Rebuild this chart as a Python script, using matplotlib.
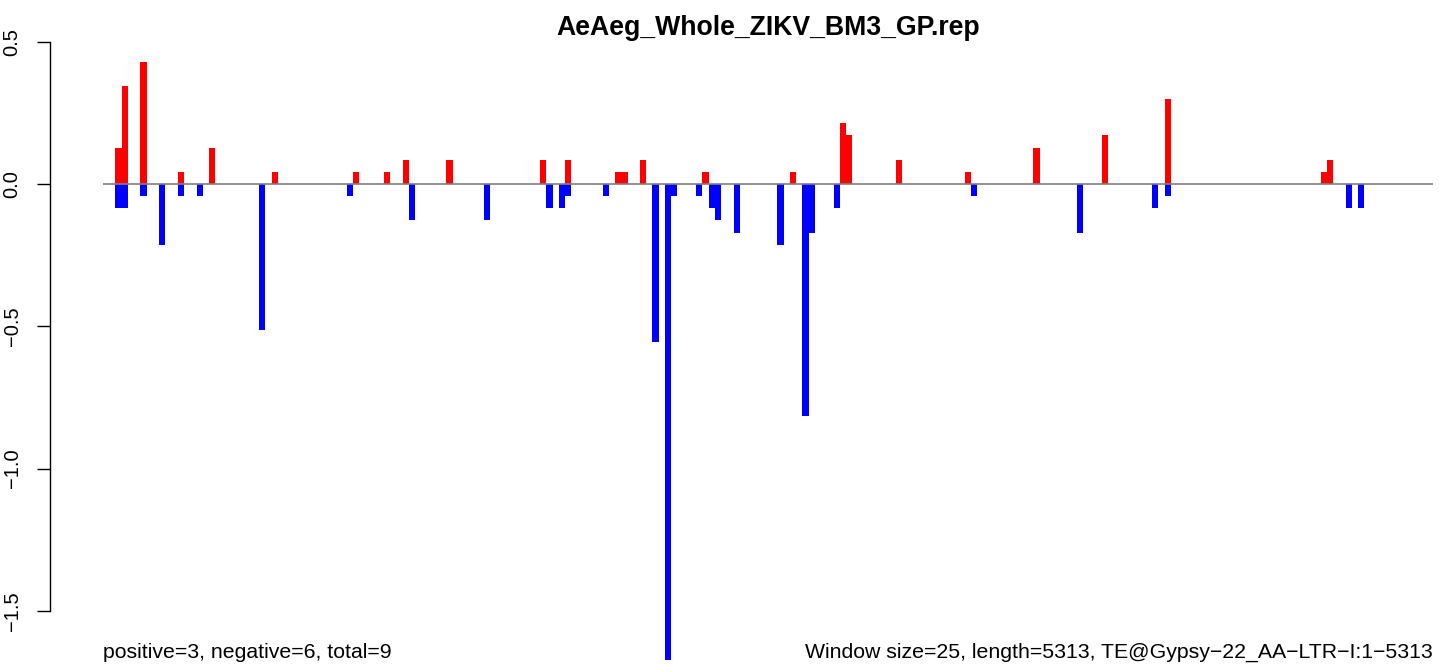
import matplotlib
matplotlib.use("Agg")
import matplotlib.pyplot as plt

plt.rcParams['font.family'] = ['Liberation Sans', 'DejaVu Sans']

title = "AeAeg_Whole_ZIKV_BM3_GP.rep"
n_windows = 213
left_note = "positive=3, negative=6, total=9"
right_note = "Window size=25, length=5313, TE@Gypsy\u221222_AA\u2212LTR\u2212I:1\u22125313"

pos_idx = [2, 3, 6, 12, 17, 27, 40, 45, 48, 55, 70, 74, 82, 83, 86, 96, 110,
           118, 119, 127, 138, 149, 160, 170, 195, 196]
pos_val = [0.128, 0.343, 0.428, 0.043, 0.128, 0.043, 0.043, 0.043, 0.086, 0.086,
           0.086, 0.086, 0.043, 0.043, 0.086, 0.043, 0.043, 0.214, 0.171, 0.086,
           0.043, 0.128, 0.171, 0.300, 0.043, 0.086]

neg_idx = [2, 3, 6, 9, 12, 15, 25, 39, 49, 61, 71, 73, 74, 80, 88, 90, 91, 95,
           97, 98, 101, 108, 112, 113, 117, 139, 156, 168, 170, 199, 201]
neg_val = [-0.086, -0.086, -0.043, -0.214, -0.043, -0.043, -0.514, -0.043, -0.128,
           -0.128, -0.086, -0.086, -0.043, -0.043, -0.557, -1.672, -0.043, -0.043,
           -0.086, -0.128, -0.171, -0.214, -0.814, -0.171, -0.086, -0.043, -0.171,
           -0.086, -0.043, -0.086, -0.086]

yticks = [0.5, 0.0, -0.5, -1.0, -1.5]
ytick_labels = ["0.5", "0.0", "\u22120.5", "\u22121.0", "\u22121.5"]

W, H = 1439, 664
fig = plt.figure(figsize=(W / 100, H / 100), dpi=100)
ax = fig.add_axes([50 / W, 0, (1433 - 50) / W, (664 - 38) / H])

px_per_unit = (1433 - 103) / n_windows
ax.set_xlim(-(103 - 50) / px_per_unit, n_windows)
ax.set_ylim(-(664 - 184) / 284.5, (184 - 38) / 284.5)

ax.bar(pos_idx, pos_val, width=1.0, align='edge', color='#FF0000', linewidth=0)
ax.bar(neg_idx, neg_val, width=1.0, align='edge', color='#0000FF', linewidth=0)
ax.hlines(0, 0, n_windows, color='#808080', linewidth=1.2, zorder=3)

for s in ['top', 'right', 'bottom']:
    ax.spines[s].set_visible(False)
ax.spines['left'].set_bounds(-1.5, 0.5)
ax.spines['left'].set_linewidth(1.0)
ax.set_xticks([])
ax.set_yticks(yticks)
ax.set_yticklabels(ytick_labels, rotation=90, va='center', fontsize=14.5)
ax.tick_params(axis='y', length=9.5, width=1.0, pad=11)

fig.text(768 / W, 1 - 28 / H, title, ha='center', va='center',
         fontsize=19.2, fontweight='bold')
fig.text(103 / W, 1 - 652 / H, left_note, ha='left', va='center', fontsize=15.3)
fig.text(1433 / W, 1 - 652 / H, right_note, ha='right', va='center', fontsize=15.3)

fig.savefig("out.png", dpi=100)
